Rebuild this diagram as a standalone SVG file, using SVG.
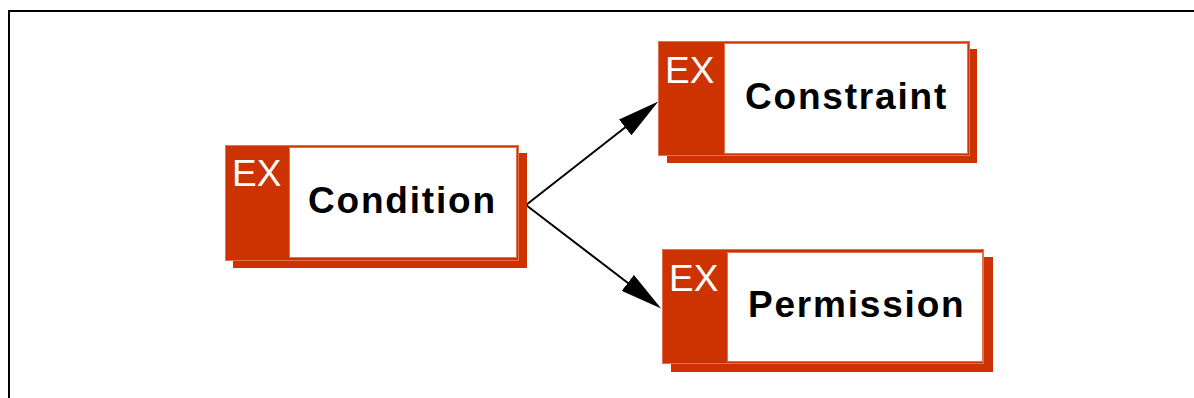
<svg xmlns="http://www.w3.org/2000/svg" width="1194" height="398" viewBox="0 0 1194 398">
  <defs>
    <style>
      .shadow { fill: #cc3300; }
      .tab { fill: #cc3300; stroke: #e2724f; stroke-width: 1; }
      .body { fill: #ffffff; stroke: #e2724f; stroke-width: 1; }
      .tag { font-family: "Liberation Sans", Arial, sans-serif; font-size: 37px; fill: #ffffff; }
      .label { font-family: "Liberation Sans", Arial, sans-serif; font-size: 37px; font-weight: bold; fill: #000000; letter-spacing: 1.8px; }
      .edge { stroke: #000000; stroke-width: 2; fill: none; }
    </style>
    <marker id="arrow" viewBox="0 0 42 20" refX="1" refY="10" markerWidth="42" markerHeight="20" markerUnits="userSpaceOnUse" orient="auto">
      <path d="M0,0 L42,10 L0,20 Z" fill="#000000"/>
    </marker>
  </defs>

  <rect width="1194" height="398" fill="#ffffff"/>
  <!-- page frame -->
  <path d="M9,398 V11 H1194" fill="none" stroke="#000000" stroke-width="2"/>

  <g id="connectors">
    <line class="edge" x1="526" y1="205" x2="626" y2="126.8" marker-end="url(#arrow)"/>
    <line class="edge" x1="526" y1="205" x2="628.6" y2="283.5" marker-end="url(#arrow)"/>
  </g>

  <g id="node-condition">
    <rect class="shadow" x="233" y="153" width="294" height="115"/>
    <rect class="tab" x="225.5" y="145.5" width="293" height="115"/>
    <rect class="body" x="289.5" y="147.5" width="227" height="110"/>
    <text class="tag" x="232" y="186">EX</text>
    <text class="label" x="308" y="213">Condition</text>
  </g>

  <g id="node-constraint">
    <rect class="shadow" x="667" y="49" width="310" height="114"/>
    <rect class="tab" x="658.5" y="41.5" width="311" height="114"/>
    <rect class="body" x="724.5" y="43.5" width="243" height="110"/>
    <text class="tag" x="665" y="83">EX</text>
    <text class="label" x="745" y="109">Constraint</text>
  </g>

  <g id="node-permission">
    <rect class="shadow" x="671" y="257" width="322" height="115"/>
    <rect class="tab" x="662.5" y="249.5" width="321" height="114"/>
    <rect class="body" x="727.5" y="252.5" width="255" height="109"/>
    <text class="tag" x="669" y="291">EX</text>
    <text class="label" x="748" y="317">Permission</text>
  </g>
</svg>
